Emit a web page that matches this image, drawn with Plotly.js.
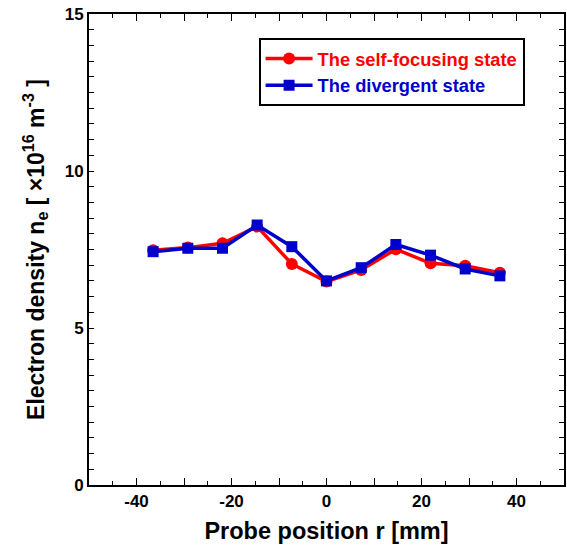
<!DOCTYPE html>
<html>
<head>
<meta charset="utf-8">
<script src="https://cdn.plot.ly/plotly-3.0.1.min.js"></script>
<style>html,body{margin:0;padding:0;background:#fff;}#chart{width:567px;height:549px;}</style>
</head>
<body>
<div id="chart"></div>
<script>
const positions = [-36.5, -29.2, -21.9, -14.6, -7.3, 0, 7.3, 14.6, 21.9, 29.2, 36.5];
const selfFocusing = [7.48, 7.56, 7.70, 8.23, 7.04, 6.48, 6.85, 7.51, 7.06, 6.98, 6.76];
const divergent = [7.43, 7.54, 7.54, 8.28, 7.59, 6.50, 6.92, 7.66, 7.32, 6.88, 6.66];
const seriesNames = ['The self-focusing state', 'The divergent state'];
const xTickVals = [-40, -30, -20, -10, 0, 10, 20, 30, 40];
const xTickText = ['-40', '', '-20', '', '0', '', '20', '', '40'];
const yTickVals = [0, 5, 10, 15];

const font = {family: 'Liberation Sans, Arial, sans-serif', weight: 'bold', color: '#000'};

const traces = [
  {x: positions, y: selfFocusing, name: '<span style="color:#ff0000">' + seriesNames[0] + '</span>',
   mode: 'lines+markers', line: {color: '#ff0000', width: 3.5},
   marker: {symbol: 'circle', size: 12, color: '#ff0000'}},
  {x: positions, y: divergent, name: '<span style="color:#0000cc">' + seriesNames[1] + '</span>',
   mode: 'lines+markers', line: {color: '#0000cc', width: 3.5},
   marker: {symbol: 'square', size: 11, color: '#0000cc'}}
];

const layout = {
  width: 567, height: 549,
  margin: {l: 89, r: 3, t: 14, b: 64},
  paper_bgcolor: '#fff', plot_bgcolor: '#fff',
  showlegend: true,
  legend: {x: 0.357, y: 0.949, xanchor: 'left', yanchor: 'top',
    bordercolor: '#000', borderwidth: 2, bgcolor: '#fff',
    font: Object.assign({}, font, {size: 18.3}), tracegroupgap: 0, itemwidth: 47},
  xaxis: {
    range: [-50, 50], showgrid: false, zeroline: false,
    showline: true, linecolor: '#000', linewidth: 2, mirror: 'ticks',
    ticks: 'inside', ticklen: 7, tickwidth: 1, tickcolor: '#000',
    tickmode: 'array', tickvals: xTickVals, ticktext: xTickText,
    minor: {dtick: 5, tick0: 0, ticks: 'inside', ticklen: 4, tickcolor: '#000', showgrid: false},
    tickfont: Object.assign({}, font, {size: 17}),
    title: {text: 'Probe position r [mm]', font: Object.assign({}, font, {size: 23.5}), standoff: 12}
  },
  yaxis: {
    range: [0, 15], showgrid: false, zeroline: false,
    showline: true, linecolor: '#000', linewidth: 2, mirror: 'ticks',
    ticks: 'inside', ticklen: 5, tickwidth: 1, tickcolor: '#000',
    tickmode: 'array', tickvals: yTickVals,
    minor: {dtick: 0.5, tick0: 0, ticks: 'inside', ticklen: 5, tickcolor: '#000', showgrid: false},
    tickfont: Object.assign({}, font, {size: 17}),
    title: {text: 'Electron density n<sub>e</sub> [ ×10<sup>16</sup> m<sup>-3</sup> ]', font: Object.assign({}, font, {size: 23}), standoff: 14}
  }
};

Plotly.newPlot('chart', traces, layout, {staticPlot: true, displayModeBar: false});
</script>
</body>
</html>
